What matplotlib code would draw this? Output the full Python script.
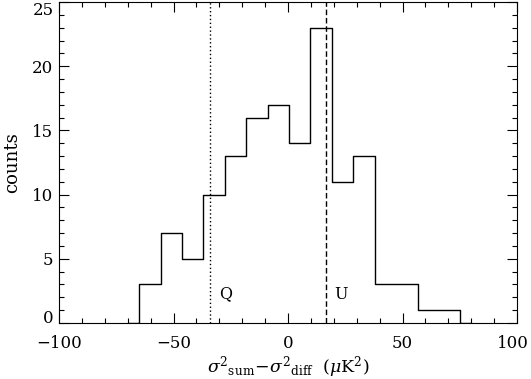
import matplotlib
matplotlib.use("Agg")
import matplotlib.pyplot as plt
import matplotlib.transforms as mtransforms

# Histogram (IDL psym=10 style) bin centres and counts
bin_centers = [-69.7, -60.3, -51.0, -41.6, -32.3, -22.9, -13.6, -4.2, 5.1,
               14.5, 23.9, 33.2, 42.6, 51.9, 61.3, 70.6, 80.0]
counts = [0, 3, 7, 5, 10, 13, 16, 17, 14, 23, 11, 13, 3, 3, 1, 1, 0]

q_value = -34.2
u_value = 16.5
q_label = "Q"
u_label = "U"

xticks = [-100, -50, 0, 50, 100]
xtick_labels = ["\u2212100", "\u221250", "0", "50", "100"]
yticks = [0, 5, 10, 15, 20, 25]

plt.rcParams['font.family'] = ['DejaVu Serif']
plt.rcParams['mathtext.fontset'] = 'dejavuserif'

fig = plt.figure(figsize=(5.31, 3.79), dpi=100)
ax = fig.add_axes([59/531, 1 - 323/379, (517-59)/531, (323-2)/379])

ax.step(bin_centers, counts, where='mid', color='black', lw=1.0)
ax.axvline(q_value, color='black', lw=1.0, linestyle=(0, (1, 1.8)))
ax.axvline(u_value, color='black', lw=1.0, linestyle=(0, (4, 2)))
ax.text(q_value + 4.3, 1.9, q_label, fontsize=11.5, va='baseline')
ax.text(u_value + 3.6, 1.9, u_label, fontsize=11.5, va='baseline')

ax.set_xlim(-100, 100)
ax.set_ylim(0, 25)
ax.set_xticks(xticks)
ax.set_xticklabels(xtick_labels)
ax.set_yticks(yticks)
ax.set_xticks(range(-100, 101, 10), minor=True)
ax.set_yticks(range(0, 26, 1), minor=True)
ax.tick_params(which='both', direction='in', top=True, right=True, width=0.8,
               labelsize=12)
ax.tick_params(which='major', length=7)
ax.tick_params(which='minor', length=3.6)
ax.tick_params(axis='x', pad=9)
ax.tick_params(axis='y', pad=4)
for s in ax.spines.values():
    s.set_linewidth(0.8)

ylabs = ax.get_yticklabels()
ylabs[0].set_va('baseline')
ylabs[-1].set_va('top')

xlabs = ax.get_xticklabels()
xlabs[-1].set_transform(xlabs[-1].get_transform() +
                        mtransforms.ScaledTranslation(-4/100, 0, fig.dpi_scale_trans))

ax.set_xlabel(r'$\sigma^2{}_{\mathrm{sum}}\!-\!\sigma^2{}_{\mathrm{diff}}$  ($\mu$K$^2$)',
              fontsize=12.5, labelpad=1)
ax.set_ylabel('counts', fontsize=13, labelpad=8)

fig.savefig('out.png', dpi=100)
